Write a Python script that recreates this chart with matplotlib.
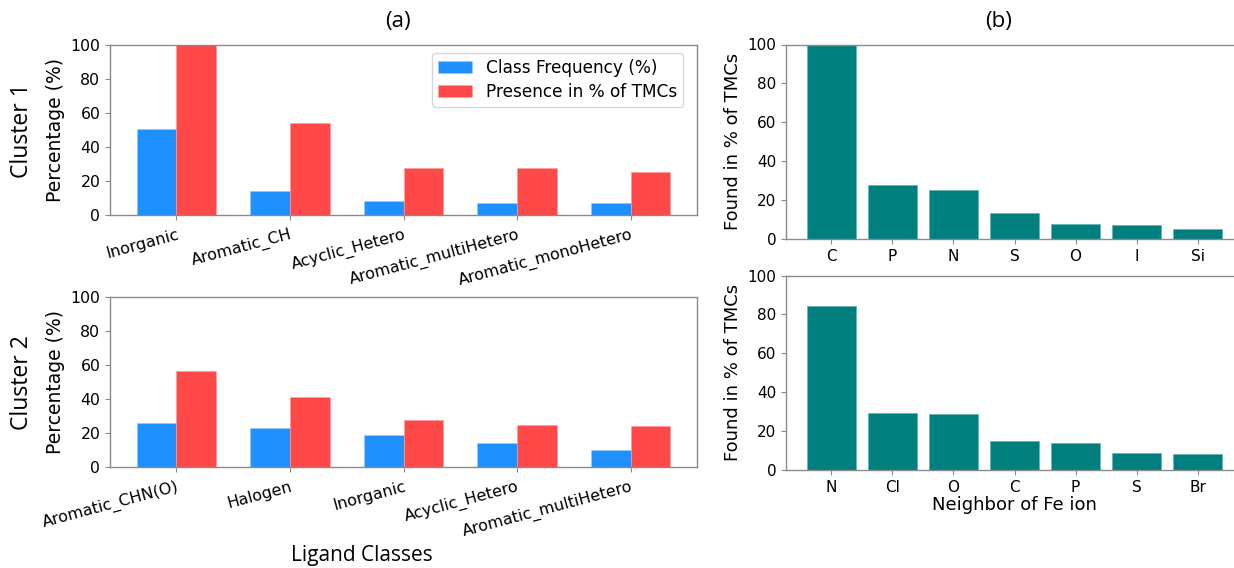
import matplotlib.pyplot as plt
import numpy as np

# ligand classes, cluster 1 and cluster 2
classes_c1 = ["Inorganic", "Aromatic_CH", "Acyclic_Hetero", "Aromatic_multiHetero", "Aromatic_monoHetero"]
freq_c1 = [50.5, 14, 8.5, 7, 7]
presence_c1 = [100, 54, 27.5, 27.5, 25.5]

classes_c2 = ["Aromatic_CHN(O)", "Halogen", "Inorganic", "Acyclic_Hetero", "Aromatic_multiHetero"]
freq_c2 = [26, 23, 19, 14, 10]
presence_c2 = [56.5, 41, 27.5, 25, 24]

# neighbours of the Fe ion
neigh_c1 = ["C", "P", "N", "S", "O", "I", "Si"]
found_c1 = [100, 28, 25, 13.5, 7.5, 7, 5]
neigh_c2 = ["N", "Cl", "O", "C", "P", "S", "Br"]
found_c2 = [84.5, 29.5, 29, 15, 14, 8.5, 8]

W, H = 1234, 568
fig = plt.figure(figsize=(W / 100, H / 100), dpi=100)


def box(x0, y0, x1, y1):
    return [x0 / W, 1 - y1 / H, (x1 - x0) / W, (y1 - y0) / H]


spine_col = "#8a8a8a"
blue = "#1E90FF"
red = "#FF4848"
teal = "#007F7F"


def style(ax):
    for s in ax.spines.values():
        s.set_color(spine_col)
        s.set_linewidth(1.0)
    ax.tick_params(color=spine_col)


def class_panel(rect, classes, freq, pres, legend):
    ax = fig.add_axes(rect)
    x = np.arange(len(classes))
    w = 0.35
    ax.bar(x - w / 2, freq, w, color=blue, edgecolor="#9cc8ff", linewidth=0.4, label="Class Frequency (%)")
    ax.bar(x + w / 2, pres, w, color=red, edgecolor="#ff9a9a", linewidth=0.4, label="Presence in % of TMCs")
    ax.set_ylim(0, 100)
    ax.set_xticks(x)
    ax.set_xticklabels(classes, rotation=15, ha="right", rotation_mode="anchor", fontsize=11.5)
    ax.tick_params(axis="x", pad=5)
    ax.tick_params(axis="y", labelsize=11.3)
    ax.set_ylabel("Percentage (%)", fontsize=13.5, labelpad=4)
    style(ax)
    if legend:
        ax.legend(loc="upper right", bbox_to_anchor=(683 / W, 1 - 53 / H),
                  bbox_transform=fig.transFigure, borderaxespad=0,
                  fontsize=12.2, handlelength=2.0, borderpad=0.35, labelspacing=0.35)
    return ax


def neigh_panel(rect, names, vals, xlabel=None):
    ax = fig.add_axes(rect)
    ax.bar(names, vals, 0.8, color=teal, edgecolor="#5fb3b3", linewidth=0.5)
    ax.set_ylim(0, 100)
    ax.tick_params(labelsize=11)
    ax.set_ylabel("Found in % of TMCs", fontsize=13)
    if xlabel:
        ax.set_xlabel(xlabel, fontsize=13, labelpad=1)
    style(ax)
    return ax


class_panel(box(110, 45, 697, 215), classes_c1, freq_c1, presence_c1, True)
class_panel(box(110, 297, 697, 467), classes_c2, freq_c2, presence_c2, False)
neigh_panel(box(786, 44.5, 1243, 239), neigh_c1, found_c1)
neigh_panel(box(786, 275.5, 1243, 470), neigh_c2, found_c2, "Neighbor of Fe ion")

lab = dict(family=["Open Sans", "DejaVu Sans"], ha="center", va="center")
fig.text(398 / W, 1 - 21 / H, "(a)", fontsize=16, **lab)
fig.text(999 / W, 1 - 21 / H, "(b)", fontsize=16, **lab)
fig.text(22 / W, 1 - 131 / H, "Cluster 1", fontsize=16.5, rotation=90, **lab)
fig.text(22 / W, 1 - 383 / H, "Cluster 2", fontsize=16.5, rotation=90, **lab)
fig.text(362 / W, 1 - 556 / H, "Ligand Classes", fontsize=15, **lab)

fig.savefig("out.png", dpi=100)
